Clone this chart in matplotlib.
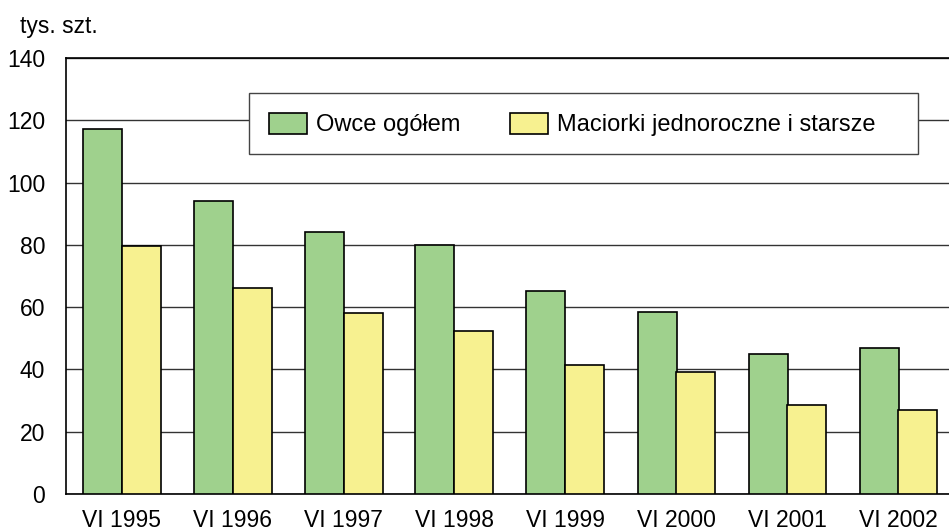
import numpy as np
import matplotlib.pyplot as plt
from matplotlib.patches import Rectangle

plt.rcParams['font.family'] = ['Liberation Sans', 'DejaVu Sans']

# dane
lata = ['VI 1995', 'VI 1996', 'VI 1997', 'VI 1998', 'VI 1999', 'VI 2000', 'VI 2001', 'VI 2002']
owce = [117.3, 94.1, 84.2, 80.0, 65.1, 58.5, 45.0, 46.9]
maciorki = [79.6, 66.2, 58.1, 52.3, 41.5, 39.3, 28.7, 27.1]

green = '#9fd18d'
yellow = '#f7f190'

fig = plt.figure(figsize=(9.49, 5.32), dpi=100)
W, H = 949, 532
ax = fig.add_axes([66 / W, 38 / H, 888 / W, 436 / H])

x = np.arange(len(lata))
bw = 39 / 111
ax.bar(x - bw / 2, owce, bw, color=green, edgecolor='black', linewidth=1.2,
       label='Owce ogółem', zorder=3)
ax.bar(x + bw / 2, maciorki, bw, color=yellow, edgecolor='black', linewidth=1.2,
       label='Maciorki jednoroczne i starsze', zorder=3)

ax.set_xlim(-0.5, 7.5)
ax.set_ylim(0, 140)
ax.set_yticks(range(0, 141, 20))
ax.yaxis.grid(True, color='#333333', linewidth=1.0, zorder=0)
ax.set_xticks(x)
ax.set_xticklabels(lata)
ax.tick_params(axis='both', length=0, labelsize=16.5, colors='black')
ax.tick_params(axis='y', pad=15)
ax.tick_params(axis='x', pad=11)
for s in ['right', 'top']:
    ax.spines[s].set_visible(False)
ax.spines['left'].set_linewidth(1.2)
ax.spines['bottom'].set_linewidth(1.2)
ax.axhline(140, color='black', linewidth=1.2, zorder=2, clip_on=False)

fig.text(20 / W, 1 - 33 / H, 'tys. szt.', fontsize=16.5, va='baseline', ha='left')

# ramka legendy
fig.add_artist(Rectangle((249 / W, 1 - 154 / H), (918 - 249) / W, 61 / H,
                         transform=fig.transFigure, facecolor='white',
                         edgecolor='#444444', linewidth=1.0, zorder=1))

handles, labels = ax.get_legend_handles_labels()
fig.legend(handles, labels, ncol=2, loc='center left',
           bbox_to_anchor=(269 / W, 1 - 124.5 / H), fontsize=17,
           frameon=False, handlelength=1.62, handleheight=1.04,
           handletextpad=0.38, columnspacing=2.1, borderpad=0, borderaxespad=0)

fig.savefig('out.png', dpi=100)
